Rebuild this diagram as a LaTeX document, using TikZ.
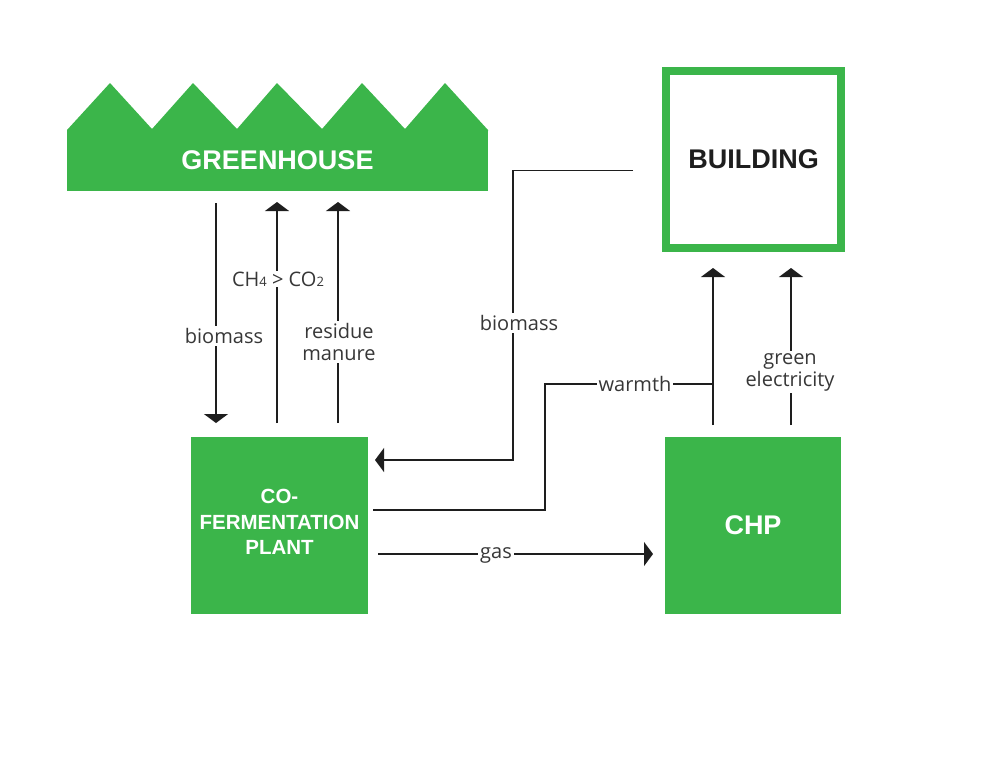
\documentclass[tikz,border=0pt]{standalone}
\usepackage{fontspec}
\setmainfont{Open Sans}
\newfontfamily\headfont{Liberation Sans}
\usetikzlibrary{arrows.meta,calc}
\definecolor{ghgreen}{RGB}{59,181,74}
\definecolor{ink}{RGB}{30,30,30}
\definecolor{lbl}{RGB}{55,55,55}
\begin{document}
\begin{tikzpicture}[x=1pt,y=-1pt,
  flow/.style={draw=ink, line width=1.1pt},
  arr/.style={flow, -{Triangle[width=24pt,length=9pt]}},
  lab/.style={fill=white, inner sep=2pt, text=lbl, align=center,
    font=\fontsize{20}{23}\selectfont},
  headtext/.style={font=\headfont\bfseries\fontsize{27}{30}\selectfont},
  gbox/.style={fill=ghgreen, inner sep=0pt, outer sep=0pt, text=white, align=center}
]
\useasboundingbox (0,0) rectangle (1000,756);

% nodes
\node[gbox, headtext, minimum width=421pt, minimum height=61pt] (gh) at (277.5,160.5) {GREENHOUSE};
\fill[ghgreen] (67,131) -- (67,130) -- (110,83) -- (152,129) -- (193,83) -- (237,129)
  -- (277,83) -- (322,129) -- (362,83) -- (405,129) -- (445,83) -- (488,130) -- (488,131) -- cycle;

\node[draw=ghgreen, line width=8pt, inner sep=0pt, outer sep=0pt, minimum width=175pt,
  minimum height=177pt, headtext, text=ink] (bld) at (753.5,159.5) {BUILDING};

\node[gbox, minimum width=177pt, minimum height=177pt,
  font=\headfont\bfseries\fontsize{20.5}{25.5}\selectfont] (cf) at (279.5,525.5)
  {CO-\\FERMENTATION\\PLANT\rule[-7pt]{0pt}{7pt}};

\node[gbox, headtext, minimum width=176pt, minimum height=177pt] (chp) at (753,525.5) {CHP};

% greenhouse <-> co-fermentation
\draw[arr] ($(gh.south -| cf.west)+(25,12)$) -- ($(cf.north west)+(25,-14)$);
\node[lab] (lb1) at (224,336) {biomass};

\draw[arr] ($(cf.north west)+(86,-14)$) -- ($(gh.south -| cf.west)+(86,11)$);
\node[lab, inner sep=1pt] (lb2) at (278,279)
  {CH{\fontsize{13}{13}\selectfont 4}\ >\ CO{\fontsize{13}{13}\selectfont 2}};

\draw[arr] ($(cf.north west)+(147,-14)$) -- ($(gh.south -| cf.west)+(147,11)$);
\node[lab, font=\fontsize{20}{22}\selectfont] (lb3) at (339,342) {residue\\manure};

% building -> co-fermentation (biomass)
\coordinate (bstart) at ($(bld.west)+(-33,11)$);
\draw[arr] (bstart) -| ($(cf.north east)+(145,23)$) -- ($(cf.north east)+(7,23)$);
\node[lab] (lb4) at (519,323) {biomass};

% warmth
\coordinate (wend) at ($(chp.north west)+(48,-53)$);
\draw[flow] ($(cf.east)+(5,-15.5)$) -- ++(172,0) |- (wend);
\node[lab] (lb5) at (635,384) {warmth};

% CHP -> building
\draw[arr] ($(chp.north west)+(48,-12)$) -- ($(bld.south -| chp.west)+(48,20)$);
\draw[arr] ($(chp.north west)+(126,-12)$) -- ($(bld.south -| chp.west)+(126,20)$);
\node[lab, font=\fontsize{20}{22}\selectfont] (lb6) at (790,372) {green\\electricity};

% gas
\draw[arr] ($(cf.east)+(10,28.5)$) -- ($(chp.west)+(-12,28.5)$);
\node[lab] (lb7) at (496,555) {gas};
\end{tikzpicture}
\end{document}
